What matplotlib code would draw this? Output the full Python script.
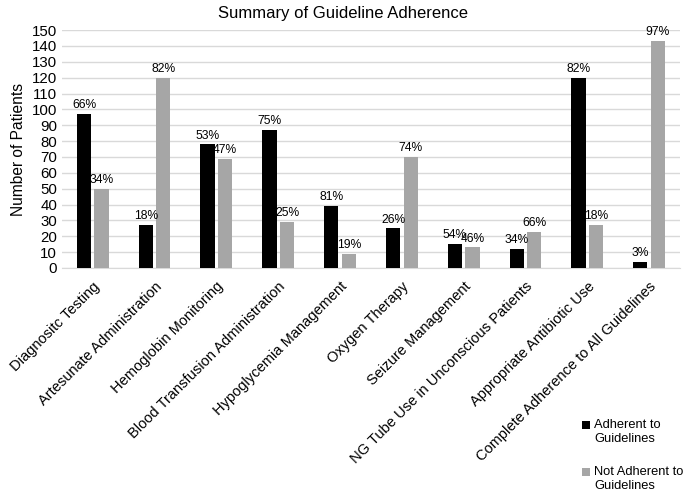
import matplotlib
matplotlib.use("Agg")
import matplotlib.pyplot as plt
from matplotlib.container import BarContainer
from matplotlib.legend_handler import HandlerPatch, update_from_first_child
from matplotlib.patches import Rectangle
import numpy as np

categories = [
    "Diagnositc Testing",
    "Artesunate Administration",
    "Hemoglobin Monitoring",
    "Blood Transfusion Administration",
    "Hypoglycemia Management",
    "Oxygen Therapy",
    "Seizure Management",
    "NG Tube Use in Unconscious Patients",
    "Appropriate Antibiotic Use",
    "Complete Adherence to All Guidelines",
]
adherent = [97, 27, 78, 87, 39, 25, 15, 12, 120, 4]
not_adherent = [50, 120, 69, 29, 9, 70, 13, 23, 27, 143]
adherent_pct = ["66%", "18%", "53%", "75%", "81%", "26%", "54%", "34%", "82%", "3%"]
not_adherent_pct = ["34%", "82%", "47%", "25%", "19%", "74%", "46%", "66%", "18%", "97%"]

plt.rcParams["font.family"] = ["Liberation Sans", "DejaVu Sans"]


class TopSquare(HandlerPatch):
    # put the legend square next to the first line of a two-line label
    def create_artists(self, legend, orig_handle, xdescent, ydescent,
                       width, height, fontsize, trans):
        p = Rectangle((-xdescent, -ydescent + 0.55 * fontsize), width, height)
        self.update_prop(p, orig_handle, legend)
        p.set_transform(trans)
        return [p]


fig = plt.figure(figsize=(6.85, 4.94), dpi=100)
ax = fig.add_axes([0.0905, 0.4575, 0.9025, 0.4815])

x = np.arange(len(categories))
w = 0.23
b1 = ax.bar(x - 0.145, adherent, w, color="#000000", label="Adherent to\nGuidelines", zorder=3)
b2 = ax.bar(x + 0.14, not_adherent, w, color="#a6a6a6", label="Not Adherent to\nGuidelines", zorder=3)
ax.bar_label(b1, labels=adherent_pct, padding=2, fontsize=8.7)
ax.bar_label(b2, labels=not_adherent_pct, padding=2, fontsize=8.7)

ax.set_xlim(-0.5, len(categories) - 0.5)
ax.set_ylim(0, 150)
ax.set_yticks(range(0, 151, 10))
ax.grid(axis="y", color="#d9d9d9", linewidth=1, zorder=0)
for s in ["top", "right", "left"]:
    ax.spines[s].set_visible(False)
ax.spines["bottom"].set_color("#d9d9d9")
ax.tick_params(axis="y", length=0, labelsize=10.8)
ax.tick_params(axis="x", length=0, pad=8)
ax.set_xticks(x)
ax.set_xticklabels(categories, rotation=45, ha="right", rotation_mode="anchor", fontsize=10.5)
ax.set_ylabel("Number of Patients", fontsize=11.2)
fig.suptitle("Summary of Guideline Adherence", fontsize=12, y=0.988, va="top")

fig.legend(loc="upper left", bbox_to_anchor=(0.842, 0.162), frameon=False,
           fontsize=9.3, handlelength=0.6, handleheight=0.6, handletextpad=0.35,
           labelspacing=1.65, borderaxespad=0,
           handler_map={BarContainer: TopSquare(update_func=update_from_first_child)})

fig.savefig("out.png", dpi=100)
